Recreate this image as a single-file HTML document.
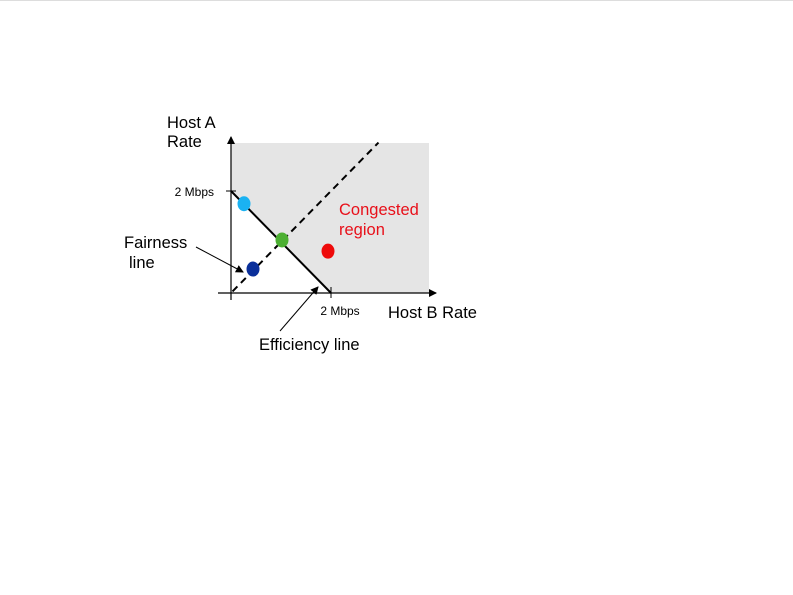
<!DOCTYPE html>
<html><head><meta charset="utf-8"><style>
html,body{margin:0;padding:0;background:#fff;}
svg{display:block;font-family:"Liberation Sans",Arial,sans-serif;}
</style></head><body>
<svg id="chart" width="793" height="595" viewBox="0 0 793 595" xmlns="http://www.w3.org/2000/svg">
<defs>
<marker id="ah" markerWidth="8" markerHeight="8" refX="7" refY="4" orient="auto" markerUnits="userSpaceOnUse"><path d="M0,0 L8,4 L0,8 z" fill="#000"/></marker>
</defs>
<line x1="0" y1="0.5" x2="793" y2="0.5" stroke="#ddd"/>
<path id="congested" fill="#e5e5e5"/>
<line id="fair" stroke="#000" stroke-width="2" stroke-dasharray="7,5"/>
<line id="eff" stroke="#000" stroke-width="2"/>
<line x1="218" y1="293" x2="436" y2="293" stroke="#000" stroke-width="1.2" marker-end="url(#ah)"/>
<line x1="231" y1="300" x2="231" y2="137" stroke="#000" stroke-width="1.2" marker-end="url(#ah)"/>
<g id="ticks"></g>
<g id="points"></g>
<text x="167" y="128" font-size="16.5">Host A</text>
<text x="167" y="147" font-size="16.5">Rate</text>
<text x="388" y="318" font-size="16.5">Host B Rate</text>
<text x="339" y="215" font-size="16.5" fill="#e8101a">Congested</text>
<text x="339" y="235" font-size="16.5" fill="#e8101a">region</text>
<text x="124" y="248" font-size="16.5">Fairness</text>
<text x="129" y="268" font-size="16.5">line</text>
<text x="259" y="350" font-size="16.5">Efficiency line</text>
<line x1="196" y1="247" x2="243" y2="272" stroke="#000" stroke-width="1" marker-end="url(#ah)"/>
<line x1="280" y1="331" x2="318" y2="287" stroke="#000" stroke-width="1" marker-end="url(#ah)"/>
</svg>
<script>
const tickValues = [2];
const tickLabels = ["2 Mbps"];
const pointNames = ["light-blue-point","green-point","dark-blue-point","red-point"];
const pointB = [0.26, 1.02, 0.44, 1.94];
const pointA = [1.75, 1.04, 0.47, 0.82];
const pointColors = ["#1ab2f2","#4caf32","#0a2f9a","#ee0a0a"];
const capacity = 2;
const fairMax = 2.95;

const X0=231, Y0=293;
function sx(v){return X0 + v*50;}
function sy(v){return Y0 - v*51;}
const NS="http://www.w3.org/2000/svg";

document.getElementById('congested').setAttribute('d',
 `M${sx(0)},${sy(capacity)} L${sx(0)},143 L429,143 L429,${Y0} L${sx(capacity)},${Y0} Z`);
const f=document.getElementById('fair');
f.setAttribute('x1',sx(0.03));f.setAttribute('y1',sy(0.03));
f.setAttribute('x2',sx(fairMax));f.setAttribute('y2',sy(fairMax));
const e=document.getElementById('eff');
e.setAttribute('x1',sx(0));e.setAttribute('y1',sy(capacity));
e.setAttribute('x2',sx(capacity));e.setAttribute('y2',sy(0));

const tg=document.getElementById('ticks');
tickValues.forEach((v,i)=>{
 const l1=document.createElementNS(NS,'line');
 l1.setAttribute('x1',X0-5);l1.setAttribute('x2',X0+5);l1.setAttribute('y1',sy(v));l1.setAttribute('y2',sy(v));l1.setAttribute('stroke','#000');
 
 
 tg.appendChild(l1);
 const t1=document.createElementNS(NS,'text');
 t1.setAttribute('x',X0-17);t1.setAttribute('y',sy(v)+5);t1.setAttribute('text-anchor','end');t1.setAttribute('font-size','12');t1.textContent=tickLabels[i];
 
 
 tg.appendChild(t1);
 const l2=document.createElementNS(NS,'line');
 l2.setAttribute('x1',sx(v));l2.setAttribute('x2',sx(v));l2.setAttribute('y1',Y0-6);l2.setAttribute('y2',Y0+5);l2.setAttribute('stroke','#000');
 
 
 tg.appendChild(l2);
 const t2=document.createElementNS(NS,'text');
 t2.setAttribute('x',sx(v)+9);t2.setAttribute('y',Y0+22);t2.setAttribute('text-anchor','middle');t2.setAttribute('font-size','12');t2.textContent=tickLabels[i];
 
 
 tg.appendChild(t2);
});
const pg=document.getElementById('points');
pointB.forEach((b,i)=>{
 const c=document.createElementNS(NS,'ellipse');
 c.setAttribute('cx',sx(b));c.setAttribute('cy',sy(pointA[i]));c.setAttribute('rx',6.5);c.setAttribute('ry',7.5);c.setAttribute('fill',pointColors[i]);
 
 
 pg.appendChild(c);
});
</script>
</body></html>
